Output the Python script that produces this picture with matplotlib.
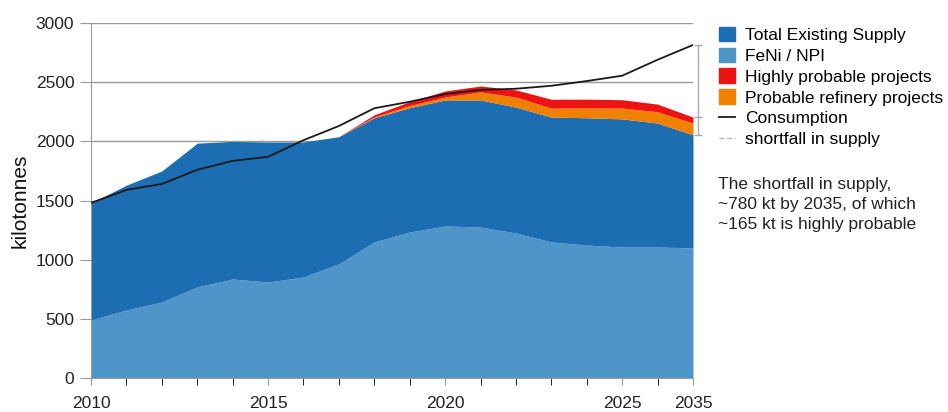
import matplotlib.pyplot as plt
import numpy as np
from matplotlib.patches import Patch
from matplotlib.lines import Line2D
import matplotlib.transforms as mtransforms

plt.rcParams['font.family'] = ['Liberation Sans', 'DejaVu Sans']

# Data (kilotonnes)
years = ["2010", "2011", "2012", "2013", "2014", "2015", "2016", "2017", "2018",
         "2019", "2020", "2021", "2022", "2023", "2024", "2025", "2026", "2035"]
shown_labels = ["2010", "2015", "2020", "2025", "2035"]

total_existing = [1480, 1630, 1750, 1985, 2000, 1995, 1995, 2040, 2200,
                  2285, 2350, 2350, 2290, 2205, 2200, 2190, 2155, 2055]
feni_npi = [490, 575, 642, 770, 837, 811, 854, 965, 1150,
            1234, 1285, 1276, 1226, 1150, 1124, 1107, 1107, 1100]
probable_refinery = [0, 0, 0, 0, 0, 0, 0, 0, 8,
                     18, 25, 68, 85, 76, 82, 92, 95, 100]
highly_probable = [0, 0, 0, 0, 0, 0, 0, 0, 17,
                   33, 51, 50, 60, 75, 75, 70, 65, 50]
consumption = [1480, 1590, 1640, 1760, 1835, 1870, 2010, 2130, 2280,
               2335, 2400, 2435, 2445, 2470, 2510, 2555, 2690, 2815]

c_dark = "#1d6db2"
c_light = "#4e95c9"
c_red = "#ee1313"
c_orange = "#f08000"

x = np.arange(len(years))
feni = np.array(feni_npi)
total = np.array(total_existing)
orange_top = total + np.array(probable_refinery)
red_top = orange_top + np.array(highly_probable)

fig = plt.figure(figsize=(9.48, 4.12), dpi=100)
ax = fig.add_axes([0.096, 0.0825, 0.635, 0.8615])

ax.fill_between(x, 0, feni, color=c_light, lw=0, zorder=2)
ax.fill_between(x, feni, total, color=c_dark, lw=0, zorder=2)
ax.fill_between(x, total, orange_top, color=c_orange, lw=0, zorder=2)
ax.fill_between(x, orange_top, red_top, color=c_red, lw=0, zorder=2)
ax.plot(x, consumption, color="#1a1a1a", lw=1.3, zorder=3)

ax.set_xlim(0, len(years) - 1)
ax.set_ylim(0, 3000)
ax.set_yticks(np.arange(0, 3001, 500))
ax.grid(axis="y", color="#9a9a9a", lw=1, zorder=0)
ax.set_axisbelow(True)

ax.set_xticks(x, minor=True)
major = [years.index(y) for y in shown_labels]
ax.set_xticks(major)
ax.set_xticklabels(shown_labels)
ax.tick_params(axis="both", labelsize=12.5, colors="#9a9a9a", labelcolor="#222222")
ax.tick_params(axis="x", which="both", length=5, pad=8)
ax.tick_params(axis="y", length=8, pad=4)
for s in ["top", "right"]:
    ax.spines[s].set_visible(False)
for s in ["left", "bottom"]:
    ax.spines[s].set_color("#9a9a9a")
ax.set_ylabel("kilotonnes", fontsize=15, color="#111111", labelpad=4)

# shortfall marker just right of the last year
trans = mtransforms.blended_transform_factory(ax.transAxes, ax.transData)
xs = 1.008
ax.plot([xs, xs], [total[-1], consumption[-1]], color="#aaaaaa", lw=1,
        transform=trans, clip_on=False)
ax.plot([xs, xs, xs], [total[-1], red_top[-1], consumption[-1]], ls="none",
        marker="_", ms=6, color="#aaaaaa", transform=trans, clip_on=False)

handles = [
    Patch(color=c_dark, label="Total Existing Supply"),
    Patch(color=c_light, label="FeNi / NPI"),
    Patch(color=c_red, label="Highly probable projects"),
    Patch(color=c_orange, label="Probable refinery projects"),
    Line2D([], [], color="#1a1a1a", lw=1.3, label="Consumption"),
    Line2D([], [], color="#bbbbbb", lw=1, ls="--", label="shortfall in supply"),
]
fig.legend(handles=handles, loc="upper left", bbox_to_anchor=(0.751, 0.952),
           frameon=False, fontsize=12.5, handlelength=0.9, handleheight=0.9,
           handletextpad=0.6, labelspacing=0.27, borderaxespad=0)

fig.text(0.757, 0.57,
         "The shortfall in supply,\n~780 kt by 2035, of which\n~165 kt is highly probable",
         fontsize=12.5, color="#222222", va="top", ha="left", linespacing=1.4)

fig.savefig("out.png", dpi=100)
